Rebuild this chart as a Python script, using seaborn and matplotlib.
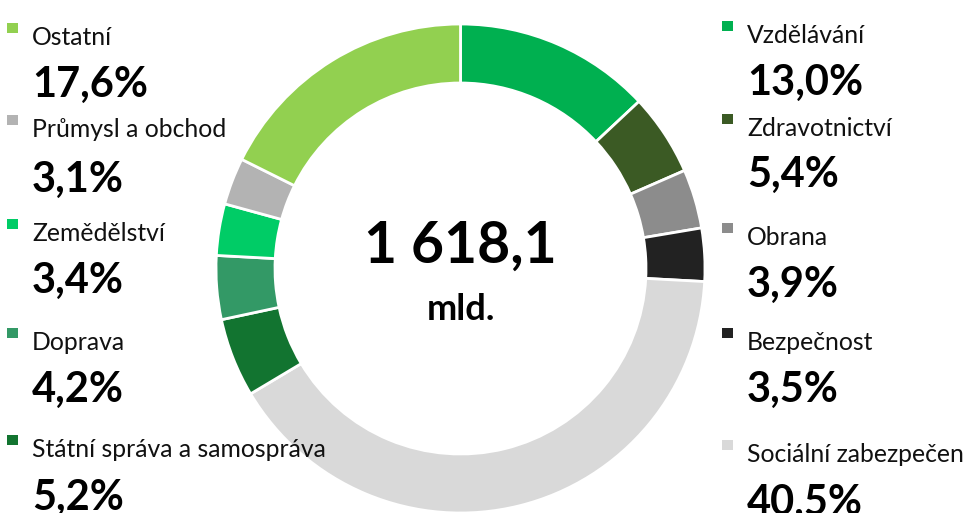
import matplotlib
matplotlib.use("Agg")
import matplotlib.pyplot as plt
import seaborn as sns

# data (clockwise from 12 o'clock)
categories = ["Vzdělávání", "Zdravotnictví", "Obrana", "Bezpečnost", "Sociální zabezpečení",
              "Státní správa a samospráva", "Doprava", "Zemědělství", "Průmysl a obchod", "Ostatní"]
shares = [13.0, 5.4, 3.9, 3.5, 40.5, 5.2, 4.2, 3.4, 3.1, 17.6]
total_label = "1 618,1"
unit_label = "mld."

colors = ["#00B050", "#3B5A24", "#8C8C8C", "#222222", "#D9D9D9",
          "#127430", "#339966", "#00CC66", "#B3B3B3", "#92D050"]

# legend columns (top -> bottom)
left_items = ["Ostatní", "Průmysl a obchod", "Zemědělství", "Doprava", "Státní správa a samospráva"]
right_items = ["Vzdělávání", "Zdravotnictví", "Obrana", "Bezpečnost", "Sociální zabezpečení"]

# layout in pixels (y from top)
W, H = 963, 513
left_label_base = [45, 137, 241, 350, 457]
left_big_base = [97, 192, 293, 402, 510]
right_label_base = [43, 136, 245, 350, 462]
right_big_base = [95, 187, 297, 402, 515]

sns.set_theme(style="white")
plt.rcParams["font.family"] = ["Lato", "DejaVu Sans"]

fig = plt.figure(figsize=(W / 100, H / 100), dpi=100)
ax = fig.add_axes([0, 0, 1, 1])
ax.set_xlim(0, W)
ax.set_ylim(0, H)
ax.set_aspect("equal")
ax.axis("off")

cx, cy, r = 460.5, H - 268.5, 244.5
ax.pie(shares, colors=colors, startangle=90, counterclock=False,
       center=(cx, cy), radius=r,
       wedgeprops=dict(width=59, edgecolor="white", linewidth=2))
ax.set_xlim(0, W)
ax.set_ylim(0, H)

ax.text(cx, H - 263, total_label, ha="center", va="baseline",
        fontsize=41, fontweight="bold", color="black")
ax.text(cx, H - 320, unit_label, ha="center", va="baseline",
        fontsize=26, fontweight="bold", color="black")

lookup = dict(zip(categories, zip(shares, colors)))


def fmt(v):
    return f"{v:.1f}".replace(".", ",") + "%"


def draw_column(items, label_base, big_base, mx, tx):
    for name, lb, bb in zip(items, label_base, big_base):
        val, col = lookup[name]
        ax.add_patch(plt.Rectangle((mx, H - lb + 12), 10.5, 10.5, color=col, lw=0))
        ax.text(tx, H - lb, name, ha="left", va="baseline", fontsize=17.8, color="#111111")
        ax.text(tx, H - bb, fmt(val), ha="left", va="baseline", fontsize=30,
                fontweight="bold", color="black")


draw_column(left_items, left_label_base, left_big_base, 7, 32)
draw_column(right_items, right_label_base, right_big_base, 722, 747)

fig.savefig("out.png", dpi=100, facecolor="white")
